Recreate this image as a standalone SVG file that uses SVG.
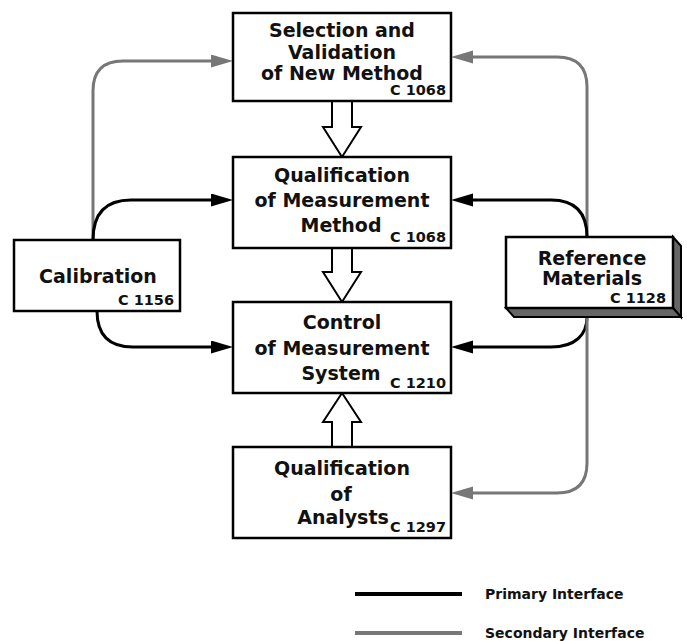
<svg xmlns="http://www.w3.org/2000/svg" width="687" height="641" viewBox="0 0 687 641">
<style>
.box{fill:#fff;stroke:#000;stroke-width:2.5}
.t{font-family:"DejaVu Sans","Liberation Sans",sans-serif;font-weight:bold;font-size:19px;fill:#111;text-anchor:middle}
.c{font-family:"DejaVu Sans","Liberation Sans",sans-serif;font-weight:bold;font-size:14.5px;fill:#111;text-anchor:end}
.lg{font-family:"DejaVu Sans","Liberation Sans",sans-serif;font-weight:bold;font-size:14px;fill:#111}
.p{fill:none;stroke:#000;stroke-width:3}
.s{fill:none;stroke:#777;stroke-width:3}
.hollow{fill:#fff;stroke:#000;stroke-width:2}
</style>
<defs>
<marker id="ab" markerUnits="userSpaceOnUse" markerWidth="23" markerHeight="14" refX="0" refY="6.5" orient="auto"><path d="M0,0 L22,6.5 L0,13 z" fill="#000"/></marker>
<marker id="ag" markerUnits="userSpaceOnUse" markerWidth="23" markerHeight="14" refX="0" refY="6.5" orient="auto"><path d="M0,0 L22,6.5 L0,13 z" fill="#777"/></marker>
</defs>

<g id="connectors">
<path class="s" d="M93,240 L93,91 Q93,61 123,61 L211,61" marker-end="url(#ag)"/>
<path class="p" d="M93,240 C93,214 105,200 131,200 L211,200" marker-end="url(#ab)"/>
<path class="p" d="M97,311 C97,335 109,347 133,347 L211,347" marker-end="url(#ab)"/>
<path class="s" d="M587,237 L587,87 Q587,57 557,57 L473,57" marker-end="url(#ag)"/>
<path class="p" d="M587,237 C587,212 575,200 551,200 L473,200" marker-end="url(#ab)"/>
<path class="p" d="M587,317 C587,335 575,347 551,347 L473,347" marker-end="url(#ab)"/>
<path class="s" d="M587,317 L587,463 Q587,493 557,493 L473,493" marker-end="url(#ag)"/>
<polygon class="hollow" points="332,101 352,101 352,127 361,127 342,157 323,127 332,127"/>
<polygon class="hollow" points="332,248 352,248 352,272 361,272 342,302 323,272 332,272"/>
<polygon class="hollow" points="342,393 361,422 352,422 352,447 332,447 332,422 323,422"/>
</g>

<g id="selection">
<rect class="box" x="233" y="13" width="218" height="88"/>
<text class="t" x="342" y="37">Selection and</text>
<text class="t" x="342" y="59">Validation</text>
<text class="t" x="342" y="80">of New Method</text>
<text class="c" x="446" y="95">C 1068</text>
</g>

<g id="qualification-method">
<rect class="box" x="233" y="157" width="218" height="91"/>
<text class="t" x="342" y="182">Qualification</text>
<text class="t" x="342" y="207">of Measurement</text>
<text class="t" x="341" y="232">Method</text>
<text class="c" x="446" y="242">C 1068</text>
</g>

<g id="control">
<rect class="box" x="233" y="302" width="218" height="91"/>
<text class="t" x="342" y="329">Control</text>
<text class="t" x="342" y="355">of Measurement</text>
<text class="t" x="341" y="380">System</text>
<text class="c" x="446" y="388">C 1210</text>
</g>

<g id="qualification-analysts">
<rect class="box" x="233" y="447" width="218" height="91"/>
<text class="t" x="342" y="475">Qualification</text>
<text class="t" x="341" y="501">of</text>
<text class="t" x="343" y="524">Analysts</text>
<text class="c" x="446" y="532">C 1297</text>
</g>

<g id="calibration">
<rect class="box" x="14" y="240" width="166" height="71"/>
<text class="t" x="98" y="283">Calibration</text>
<text class="c" x="174" y="305">C 1156</text>
</g>

<g id="reference-materials">
<polygon points="673,237 681,246 681,317 673,308" fill="#666" stroke="#000" stroke-width="2"/>
<polygon points="506,308 673,308 681,317 514,317" fill="#666" stroke="#000" stroke-width="2"/>
<rect class="box" x="506" y="237" width="167" height="71"/>
<text class="t" x="592" y="265">Reference</text>
<text class="t" x="592" y="285">Materials</text>
<text class="c" x="666" y="303">C 1128</text>
</g>

<g id="legend">
<line x1="355" y1="594" x2="462" y2="594" stroke="#000" stroke-width="4"/>
<text class="lg" x="485" y="599">Primary Interface</text>
<line x1="355" y1="633" x2="462" y2="633" stroke="#777" stroke-width="4"/>
<text class="lg" x="485" y="638">Secondary Interface</text>
</g>
</svg>
